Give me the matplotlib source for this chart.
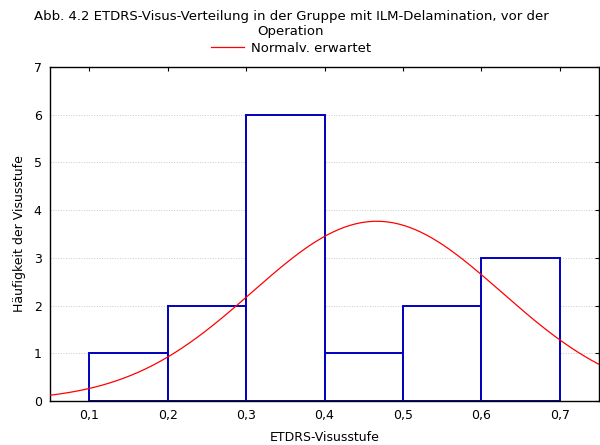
import numpy as np
import matplotlib
import matplotlib.pyplot as plt

matplotlib.use('Agg')

# Visusstufen (obere Klassengrenze) und Haeufigkeiten
visus = [0.2, 0.3, 0.4, 0.5, 0.6, 0.7]
counts = [1, 2, 6, 1, 2, 3]
xticks = [0.1, 0.2, 0.3, 0.4, 0.5, 0.6, 0.7]
xticklabels = ["0,1", "0,2", "0,3", "0,4", "0,5", "0,6", "0,7"]
bin_width = 0.1

plt.rcParams['font.family'] = ['DejaVu Sans']
plt.rcParams['font.size'] = 9

fig = plt.figure(figsize=(6, 4.45), dpi=100)
ax = fig.add_axes([50 / 600, 1 - 401 / 445, 549 / 600, (401 - 67) / 445])

# expected normal curve from the sample
vals = np.repeat(visus, counts)
mu = vals.mean()
sd = vals.std(ddof=1)
xs = np.linspace(0.05, 0.75, 300)
expected = len(vals) * bin_width * np.exp(-0.5 * ((xs - mu) / sd) ** 2) / (sd * np.sqrt(2 * np.pi))

ax.bar(np.array(visus) - bin_width, counts, width=bin_width, align='edge',
       facecolor='white', edgecolor='#0000c0', linewidth=1.4, zorder=2)
line, = ax.plot(xs, expected, color='red', linewidth=0.9, zorder=3, label='Normalv. erwartet')

ax.set_xlim(0.05, 0.75)
ax.set_ylim(0, 7)
ax.set_xticks(xticks)
ax.set_xticklabels(xticklabels)
ax.set_yticks(range(8))
ax.yaxis.grid(True, linestyle=':', color='#c8c8c8', linewidth=0.7, zorder=0)
ax.set_axisbelow(True)
ax.tick_params(axis='both', which='both', length=0, pad=6)
ax.tick_params(top=True, right=True, direction='in', length=3, width=0.8)
ax.tick_params(bottom=False, left=False)
for s in ax.spines.values():
    s.set_linewidth(1.0)

ax.set_xlabel('ETDRS-Visusstufe')
ax.set_ylabel('Häufigkeit der Visusstufe')
ax.xaxis.set_label_coords(0.5, -0.108)
ax.yaxis.set_label_coords(-0.055, 0.5)
ax.xaxis.label.set_va('center')
ax.yaxis.label.set_va('center')

fig.text(0.485, 0.946, 'Abb. 4.2 ETDRS-Visus-Verteilung in der Gruppe mit ILM-Delamination, vor der\nOperation',
         ha='center', va='center', fontsize=9.5, linespacing=1.2)
fig.legend(handles=[line], loc='center', bbox_to_anchor=(0.485, 0.891), frameon=False,
           fontsize=9.5, handlelength=2.5, handletextpad=0.5)

fig.savefig('out.png', dpi=100)
